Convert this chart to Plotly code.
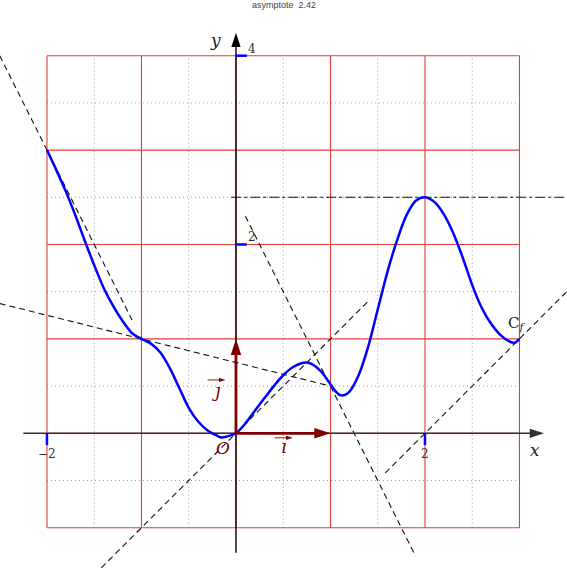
import plotly.graph_objects as go

# curve C_f
curve_x = [-2.0, -1.9, -1.8, -1.7, -1.6, -1.5, -1.4, -1.3, -1.2, -1.1, -1.0,
           -0.9, -0.8, -0.7, -0.6, -0.5, -0.4, -0.3, -0.2, -0.15, -0.1, 0.0,
           0.1, 0.2, 0.3, 0.4, 0.5, 0.6, 0.7, 0.75, 0.8, 0.9, 1.0, 1.05, 1.1,
           1.15, 1.2, 1.3, 1.4, 1.5, 1.6, 1.7, 1.8, 1.9, 2.0, 2.1, 2.2, 2.3,
           2.4, 2.5, 2.6, 2.7, 2.8, 2.9, 2.95, 3.0]
curve_y = [3.0, 2.785, 2.56, 2.31, 2.04, 1.78, 1.54, 1.35, 1.19, 1.06, 1.0,
           0.95, 0.855, 0.69, 0.48, 0.27, 0.125, 0.03, -0.025, -0.045, -0.035, 0.0,
           0.105, 0.24, 0.37, 0.50, 0.615, 0.70, 0.745, 0.75, 0.735, 0.655, 0.52, 0.45, 0.405,
           0.405, 0.44, 0.62, 0.92, 1.31, 1.70, 2.03, 2.30, 2.46, 2.5, 2.45, 2.32, 2.12,
           1.86, 1.57, 1.33, 1.16, 1.04, 0.97, 0.96, 1.0]

# tangent segments (start, end)
tangent_x = [[-2.5, -1.1], [-2.5, 1.0], [-1.5, 1.42], [0.1, 1.9], [1.58, 3.5]]
tangent_y = [[4.0, 1.2], [1.375, 0.5], [-1.5, 1.42], [2.3, -1.3], [-0.42, 1.5]]
asymptote_x = [-0.05, 3.5]
asymptote_y = [2.5, 2.5]

major_x = [-2, -1, 0, 1, 2, 3]
major_y = [-1, 0, 1, 2, 3, 4]
minor_x = [-1.5, -0.5, 0.5, 1.5, 2.5]
minor_y = [-0.5, 0.5, 1.5, 2.5, 3.5]

xtick_vals = [-2, 2]
xtick_text = ["\u22122", "2"]
ytick_vals = [2, 4]
ytick_text = ["2", "4"]

XR = [-2.497, 3.503]
YR = [-1.427, 4.590]
SERIF = "DejaVu Serif"
DARKRED = "#800000"


def grid_trace(xs, ys, color, width, dash):
    gx, gy = [], []
    for v in xs:
        gx += [v, v, None]
        gy += [major_y[0], major_y[-1], None]
    for v in ys:
        gx += [major_x[0], major_x[-1], None]
        gy += [v, v, None]
    return go.Scatter(x=gx, y=gy, mode="lines", hoverinfo="skip",
                      line=dict(color=color, width=width, dash=dash))


def arrow_trace(xs, ys, color, width, head):
    # line ending in an arrow head pointing along the segment
    return go.Scatter(x=xs, y=ys, mode="lines+markers", hoverinfo="skip",
                      line=dict(color=color, width=width),
                      marker=dict(symbol="arrow", angleref="previous", opacity=1,
                                  size=[0, head], color=color, line=dict(width=0)))


fig = go.Figure()
fig.add_trace(grid_trace(minor_x, minor_y, "#999999", 1, "1px,3px"))
fig.add_trace(grid_trace(major_x, major_y, "#e23c3c", 1.1, "solid"))

for tx, ty in zip(tangent_x, tangent_y):
    fig.add_trace(go.Scatter(x=tx, y=ty, mode="lines",
                             line=dict(color="#111", width=1.1, dash="6px,4px")))
fig.add_trace(go.Scatter(x=asymptote_x, y=asymptote_y, mode="lines",
                         line=dict(color="#111", width=1.1, dash="10px,3px,3px,3px")))

# axes
fig.add_trace(arrow_trace([-2.25, 3.26], [0, 0], "#333", 1.4, 15))
fig.add_trace(arrow_trace([0, 0], [-1.265, 4.244], "#000", 1.4, 15))

fig.add_trace(go.Scatter(x=curve_x, y=curve_y, mode="lines",
                         line=dict(color="#0000ff", width=2.5, shape="spline",
                                   smoothing=0.8)))

# unit vectors
fig.add_trace(arrow_trace([0, 1], [0, 0], DARKRED, 2.8, 17))
fig.add_trace(arrow_trace([0, 0], [0, 1], DARKRED, 2.8, 17))

# blue ticks
for v in xtick_vals:
    fig.add_trace(go.Scatter(x=[v, v], y=[0, -0.125], mode="lines",
                             line=dict(color="#0000ff", width=2.5)))
for v in ytick_vals:
    fig.add_trace(go.Scatter(x=[0, 0.115], y=[v, v], mode="lines",
                             line=dict(color="#0000ff", width=2.5)))

# small arrows over the vector names
fig.add_trace(arrow_trace([0.41, 0.6], [-0.048, -0.048], DARKRED, 0.9, 7))
fig.add_trace(arrow_trace([-0.3, -0.11], [0.565, 0.565], DARKRED, 0.9, 7))

ann = []


def label(x, y, text, size=16, color="#222", family=SERIF):
    ann.append(dict(x=x, y=y, xref="x", yref="y", text=text, showarrow=False,
                    font=dict(family=family, size=size, color=color)))


for v, t in zip(xtick_vals, xtick_text):
    label(v, -0.22, t, size=12, color="#333")
for v, t in zip(ytick_vals, ytick_text):
    label(0.17, v + 0.075, t, size=12, color="#333")

label(3.164, -0.177, "<i>x</i>", size=17)
label(-0.212, 4.167, "<i>y</i>", size=17)
label(-0.138, -0.156, "<i>O</i>", size=17, color=DARKRED)
label(0.508, -0.14, "<i>\u0131</i>", size=18, color=DARKRED)
label(-0.201, 0.45, "<i>\u0237</i>", size=18, color=DARKRED)
label(2.97, 1.16, "C<sub><i>f</i></sub>", size=15)

ann.append(dict(x=0.5, y=1 - 5 / 568, xref="paper", yref="paper", text="asymptote  2.42",
                showarrow=False, yanchor="middle",
                font=dict(family="Liberation Sans", size=9, color="#444")))

fig.update_layout(
    width=567, height=568,
    margin=dict(l=0, r=0, t=0, b=0),
    paper_bgcolor="white", plot_bgcolor="white",
    showlegend=False,
    annotations=ann,
    xaxis=dict(range=XR, visible=False, fixedrange=True),
    yaxis=dict(range=YR, visible=False, fixedrange=True),
)

fig.write_html("out.html", config={"displayModeBar": False},
               post_script="document.body.style.margin='0';")
